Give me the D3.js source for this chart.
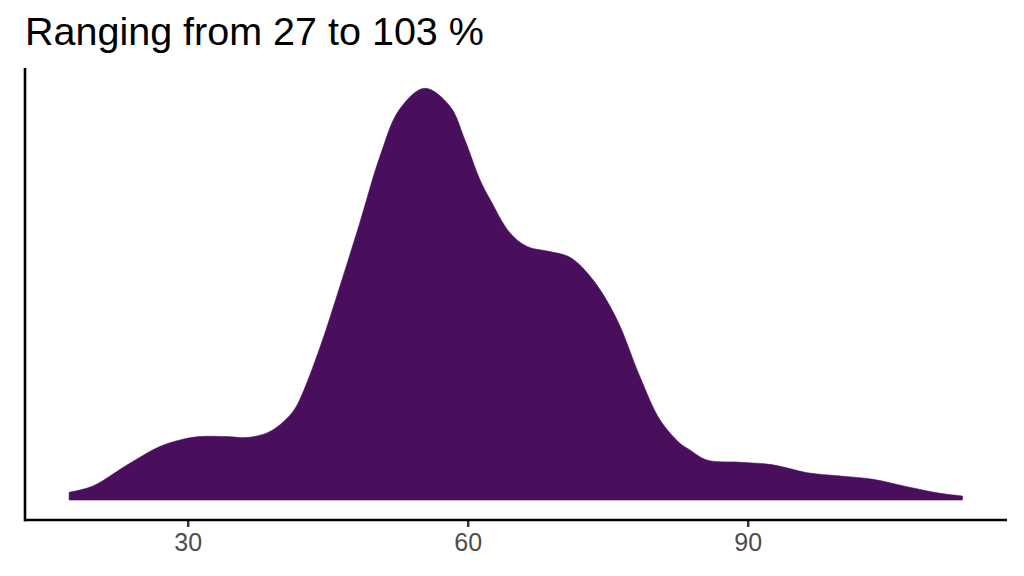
<!DOCTYPE html>
<html>
<head>
<meta charset="utf-8">
<script src="https://cdn.jsdelivr.net/npm/d3@7"></script>
<style>
  body { margin: 0; background: #fff; }
  svg { display: block; }
</style>
</head>
<body>
<svg id="chart" width="1024" height="576"></svg>
<script>
const titleText = "Ranging from 27 to 103 %";
const xTicks = [30, 60, 90];
const xValues = [17.3, 19.85, 23.5, 27.0, 29.2, 31.3, 34.2, 36.35, 38.5, 39.86, 41.25, 42.0, 44.2, 46.3, 48.45, 50.6, 52.7, 55.4, 58.1, 59.7, 61.3, 62.4, 64.5, 66.35, 68.8, 71.0, 73.4, 76.0, 78.45, 80.6, 82.7, 83.8, 85.6, 89.2, 92.7, 96.35, 99.9, 103.4, 107.05, 110.6, 113.0];
const densityValues = [0.00056, 0.00102, 0.00255, 0.00389, 0.00438, 0.00462, 0.00462, 0.00455, 0.00489, 0.00547, 0.00642, 0.0073, 0.01117, 0.01555, 0.02022, 0.02504, 0.02847, 0.0300, 0.02869, 0.02623, 0.02336, 0.0219, 0.01949, 0.01847, 0.0181, 0.01767, 0.01606, 0.01314, 0.00898, 0.00584, 0.00416, 0.00365, 0.00292, 0.00275, 0.00256, 0.00199, 0.00175, 0.00151, 0.00097, 0.00049, 0.00029];

const data = xValues.map((x, i) => ({ x, y: densityValues[i] }));

const svg = d3.select("#chart");
const panel = { left: 25, right: 1007, top: 68, bottom: 520 };

const x = d3.scaleLinear().domain([12.57, 117.78]).range([panel.left, panel.right]);
const y = d3.scaleLinear().domain([0, 0.0300]).range([500, 88.3]);

const area = d3.area()
  .x(d => x(d.x))
  .y0(y(0))
  .y1(d => y(d.y))
  .curve(d3.curveCatmullRom.alpha(0.5));

svg.append("path")
  .datum(data)
  .attr("d", area)
  .attr("fill", "#490E5C")
  .attr("stroke", "#490E5C")
  .attr("stroke-width", 0.6);

// x axis
const xAxis = d3.axisBottom(x).tickValues(xTicks).tickSize(7).tickPadding(6).tickFormat(d3.format("d"));
const gx = svg.append("g").attr("transform", `translate(0,${panel.bottom})`).call(xAxis);
gx.select(".domain").remove();
gx.selectAll(".tick line").attr("stroke", "#333333").attr("stroke-width", 2.5);
gx.selectAll(".tick text")
  .attr("fill", "#4D4D4D")
  .style("font-family", "'Liberation Sans', Arial, sans-serif")
  .style("font-size", "25px");

// axis lines
svg.append("line")
  .attr("x1", panel.left - 1).attr("x2", panel.right)
  .attr("y1", panel.bottom).attr("y2", panel.bottom)
  .attr("stroke", "#000").attr("stroke-width", 2.6);
svg.append("line")
  .attr("x1", panel.left).attr("x2", panel.left)
  .attr("y1", panel.top).attr("y2", panel.bottom + 1.3)
  .attr("stroke", "#000").attr("stroke-width", 2.6);

// title
svg.append("text")
  .attr("x", 25)
  .attr("y", 45)
  .attr("fill", "#000")
  .style("font-family", "'Liberation Sans', Arial, sans-serif")
  .style("font-size", "39.5px")
  .text(titleText);
</script>
</body>
</html>
